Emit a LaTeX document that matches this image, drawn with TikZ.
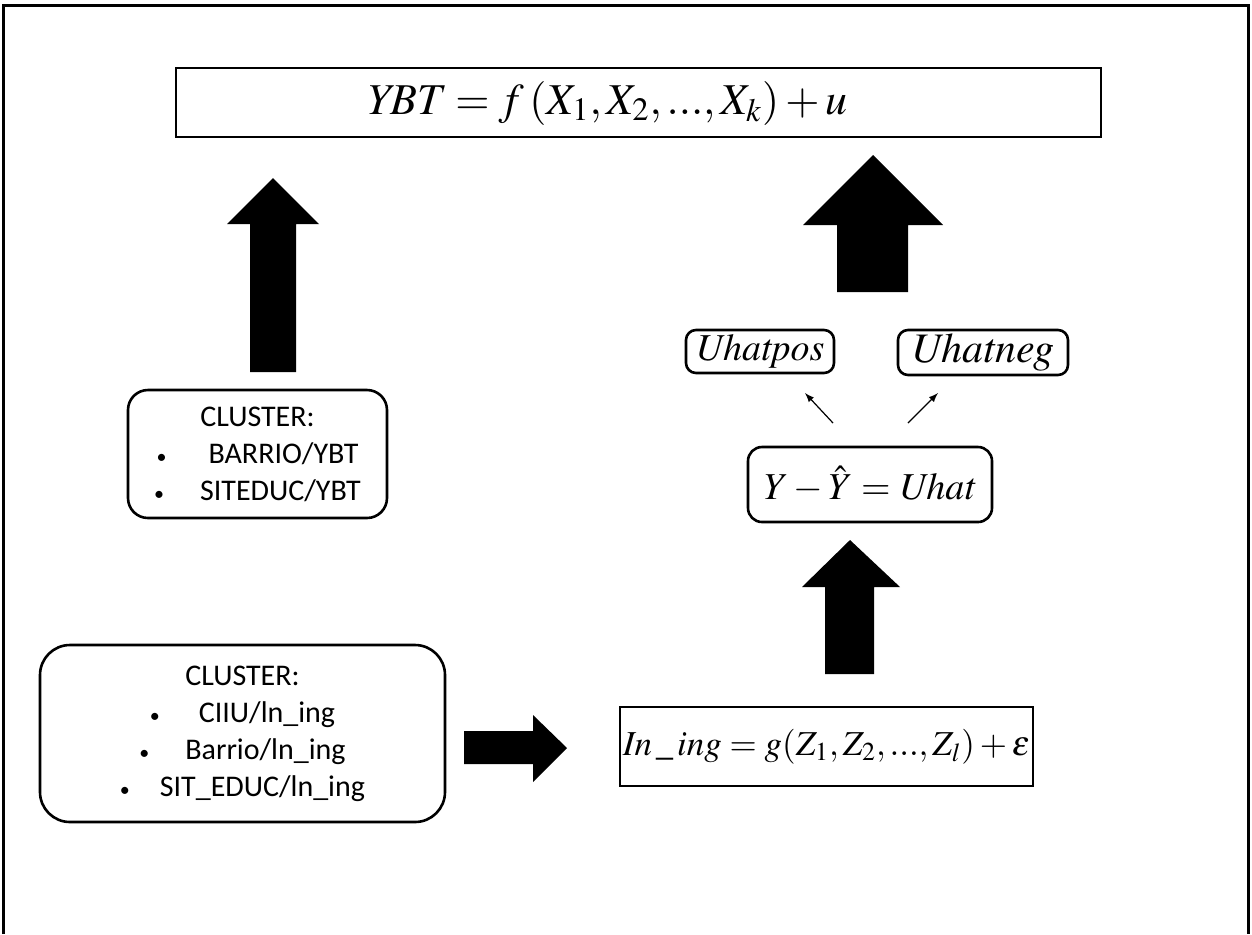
\documentclass[tikz,border=0pt]{standalone}
\usepackage{mathptmx}
\usepackage[no-math]{fontspec}
\setmainfont{Carlito}
\newcommand{\smbul}{{\fontsize{10}{10}\selectfont\textbullet}}
\begin{document}
\begin{tikzpicture}[x=0.5pt,y=-0.5pt,
  sqbox/.style={draw=black,line width=1.3pt,inner sep=0pt},
  rbox/.style={draw=black,line width=1.3pt,inner sep=0pt,rounded corners=#1},
  rbox/.default=6pt,
  cltext/.style={align=center,font=\fontsize{15}{18.5}\selectfont},
  smallarrow/.style={-latex,line width=0.6pt}
]
\useasboundingbox (0,0) rectangle (1252,934);
% outer frame (open at bottom)
\draw[line width=1.5pt] (3,934) -- (3,5) -- (1248,5) -- (1248,934);

% top box
\node[sqbox,minimum width=462.5pt,minimum height=34.5pt] (top) at (638.5,102.5) {};
\node[font=\fontsize{22}{26}\selectfont] (topeq) at (607,103) {$\mathit{YBT} = f\,(X_1, X_2, ..., X_k) + u$};

% cluster top-left
\node[rbox=10pt,minimum width=129.5pt,minimum height=64pt,cltext] (cl1) at (257.5,454)
  {CLUSTER:\\ \smbul\hspace{1.4em}BARRIO/YBT\\ \smbul\hspace{1.2em}SITEDUC/YBT};

% cluster bottom-left
\node[rbox=15pt,minimum width=202.5pt,minimum height=88.5pt,cltext] (cl2) at (242.5,733.5)
  {CLUSTER:\\ \smbul\hspace{1.3em}CIIU/ln\_ing\\ \smbul\hspace{1.2em}Barrio/ln\_ing\\ \smbul\hspace{1em}SIT\_EDUC/ln\_ing};

% ln_ing box
\node[sqbox,minimum width=206.5pt,minimum height=39.5pt,font=\fontsize{17.5}{22}\selectfont] (ln) at (826.5,746.5)
  {$\mathit{In}\,\_\,\mathit{ing} = g(Z_1, Z_2, ..., Z_l) + \varepsilon$};

% Uhat box
\node[rbox=7pt,minimum width=122pt,minimum height=37.5pt,font=\fontsize{19}{22}\selectfont] (uhat) at (870,484.5)
  {$Y - \hat{Y} = \mathit{Uhat}$};

% Uhatpos / Uhatneg
\node[rbox=5pt,minimum width=74pt,minimum height=21.5pt,font=\fontsize{19}{22}\selectfont] (upos) at (760,351.5) {$\mathit{Uhatpos}$};
\node[rbox=5pt,minimum width=85pt,minimum height=22.5pt,font=\fontsize{21}{24}\selectfont] (uneg) at (983,352.5) {$\mathit{Uhatneg}$};

% small arrows
\coordinate (a1s) at (833,423); \coordinate (a1e) at (805,393);
\coordinate (a2s) at (908,423); \coordinate (a2e) at (938,393);
\draw[smallarrow] (a1s) -- (a1e);
\draw[smallarrow] (a2s) -- (a2e);

% big block arrows
\fill (250,372) -- (250,224) -- (227,224) -- (273,178) -- (319,224) -- (296,224) -- (296,372) -- cycle;
\fill (837,292) -- (837,225) -- (803,225) -- (873,155) -- (943,225) -- (908,225) -- (908,292) -- cycle;
\fill (825,674) -- (825,587) -- (802,587) -- (850,540) -- (900,587) -- (874,587) -- (874,674) -- cycle;
\fill (464,731) -- (533,731) -- (533,715) -- (567,748) -- (533,782) -- (533,764) -- (464,764) -- cycle;
\end{tikzpicture}
\end{document}
